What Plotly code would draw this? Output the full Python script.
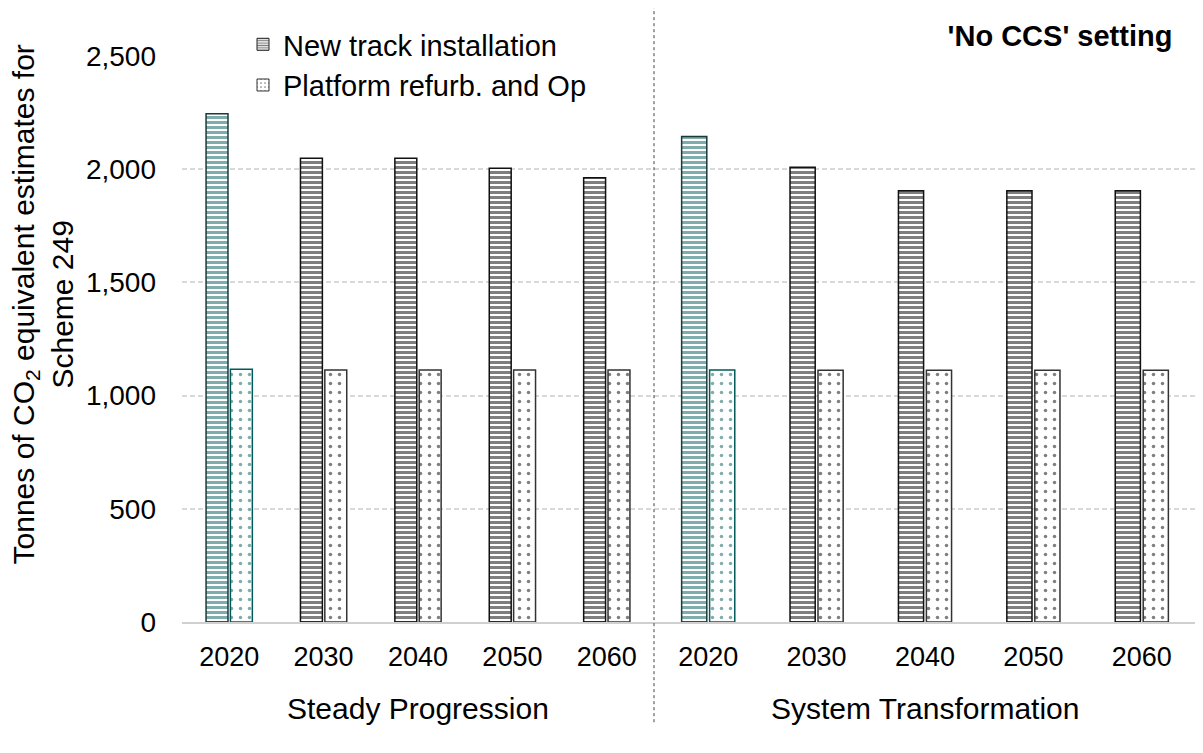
import plotly.graph_objects as go

years = ["2020", "2030", "2040", "2050", "2060"]
scenarios = ["Steady Progression", "System Transformation"]
new_track_sp = [2245, 2048, 2048, 2004, 1962]
platform_sp = [1116, 1113, 1113, 1113, 1113]
new_track_st = [2144, 2008, 1905, 1905, 1905]
platform_st = [1113, 1112, 1112, 1112, 1112]
series_names = ["New track installation", "Platform refurb. and Op"]

TEAL = "#005a5a"
FONT = "Liberation Sans, Arial, sans-serif"
hatch_fg = [TEAL, "black", "black", "black", "black"]
hatch_line = ["#1a3a3a", "#111111", "#111111", "#111111", "#111111"]
dot_fg = [TEAL, "black", "black", "black", "black"]
dot_line = [TEAL, "#333333", "#333333", "#333333", "#333333"]

HATCH = dict(shape="-", bgcolor="white", size=5, solidity=0.6, fillmode="overlay")
DOTS = dict(shape=".", bgcolor="white", size=9, solidity=0.12, fillmode="overlay")

fig = go.Figure()

def add_pair(xaxis, nt, pl):
    fig.add_trace(go.Bar(
        x=years, y=nt, name=series_names[0], xaxis=xaxis, yaxis="y",
        showlegend=False, offsetgroup="a",
        marker=dict(color="white", line=dict(color=hatch_line, width=1.5),
                    pattern=dict(fgcolor=hatch_fg, **HATCH)),
    ))
    fig.add_trace(go.Bar(
        x=years, y=pl, name=series_names[1], xaxis=xaxis, yaxis="y",
        showlegend=False, offsetgroup="b",
        marker=dict(color="white", line=dict(color=dot_line, width=1.5),
                    pattern=dict(fgcolor=dot_fg, **DOTS)),
    ))

add_pair("x", new_track_sp, platform_sp)
add_pair("x2", new_track_st, platform_st)

# legend-only entries (black swatches, as in the reference legend)
fig.add_trace(go.Bar(x=[years[0]], y=[None], name=series_names[0], xaxis="x", yaxis="y",
                     offsetgroup="a", showlegend=True,
                     marker=dict(color="white", line=dict(color="#222222", width=1),
                                 pattern=dict(fgcolor="black", shape="-", bgcolor="white",
                                              size=3, solidity=0.5, fillmode="overlay"))))
fig.add_trace(go.Bar(x=[years[0]], y=[None], name=series_names[1], xaxis="x", yaxis="y",
                     offsetgroup="b", showlegend=True,
                     marker=dict(color="white", line=dict(color="#333333", width=1),
                                 pattern=dict(fgcolor="black", shape=".", bgcolor="white",
                                              size=5, solidity=0.15, fillmode="overlay"))))

# page has an 8px body margin; figure is shifted to compensate
OFF = 8
PL, PR, PT, PB = 182, 1196, 56, 622
W, H = 1203 - OFF, 753 - OFF
pw, ph = PR - PL, PB - PT
split = (654 - PL) / pw

def px(x):
    return (x - PL) / pw

def py(y):
    return (PB - y) / ph

axis_common = dict(
    showline=True, linecolor="#d0d0d0", linewidth=1.5, ticks="",
    tickfont=dict(size=27, color="black", family=FONT), showgrid=False,
    ticklabelstandoff=10, type="category",
)

fig.update_layout(
    width=W, height=H,
    margin=dict(l=PL - OFF, r=W - (PR - OFF), t=PT - OFF - 1, b=H - (PB - OFF)),
    paper_bgcolor="white", plot_bgcolor="white",
    font=dict(family=FONT, color="black"),
    barmode="group", bargap=0.484, bargroupgap=0.1,
    xaxis=dict(domain=[0, split], anchor="y", **axis_common),
    xaxis2=dict(domain=[split, 1], anchor="y", **axis_common),
    yaxis=dict(range=[0, 2504], tickvals=[0, 500, 1000, 1500, 2000, 2500], tickformat=",d",
               gridcolor="#d9d9d9", griddash="5px,3px", gridwidth=1.5,
               zeroline=False, showline=False, ticks="",
               ticklabelstandoff=25,
               tickfont=dict(size=28, color="black", family=FONT)),
    legend=dict(x=px(243), y=py(20), xanchor="left", yanchor="top",
                bgcolor="white", font=dict(size=29, family=FONT, color="black"),
                tracegroupgap=0, itemwidth=30),
    showlegend=True,
)

fig.add_shape(type="line", xref="paper", yref="paper",
              x0=split, x1=split, y0=py(722), y1=py(8),
              line=dict(color="#404040", width=1, dash="dot"))

for i, cx in enumerate([split / 2, (split + 1) / 2]):
    fig.add_annotation(xref="paper", yref="paper", x=cx, y=py(708),
                       xanchor="center", yanchor="middle",
                       text=scenarios[i], showarrow=False,
                       font=dict(size=30, family=FONT, color="black"))

fig.add_annotation(xref="paper", yref="paper", x=px(1060), y=py(37),
                   xanchor="center", yanchor="middle",
                   text="<b>'No CCS' setting</b>", showarrow=False, bgcolor="white",
                   width=270, font=dict(size=29, family=FONT, color="black"))

fig.add_annotation(xref="paper", yref="paper", x=px(43), y=py(305),
                   xanchor="center", yanchor="middle",
                   text="Tonnes of CO<sub>2</sub> equivalent estimates for<br>Scheme 249",
                   textangle=-90, showarrow=False,
                   font=dict(size=30, family=FONT, color="black"))

fig.write_html("out.html")
